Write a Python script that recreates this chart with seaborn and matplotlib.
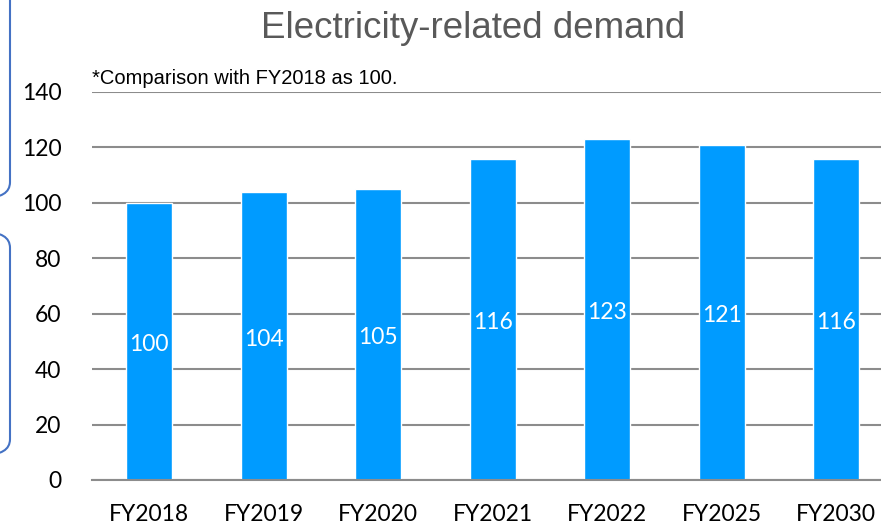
import matplotlib
matplotlib.use("Agg")
import matplotlib.pyplot as plt
from matplotlib.patches import FancyBboxPatch
import numpy as np
import pandas as pd
import seaborn as sns

years = ["FY2018", "FY2019", "FY2020", "FY2021", "FY2022", "FY2025", "FY2030"]
demand = [100, 104, 105, 116, 123, 121, 116]
value_labels = ["100", "104", "105", "116", "123", "121", "116"]

df = pd.DataFrame({"year": years, "demand": demand})

sns.set_style("white")
plt.rcParams["font.family"] = ["Lato", "DejaVu Sans"]

fig = plt.figure(figsize=(8.81, 5.25), dpi=100)
ax = fig.add_axes([92 / 881, 45 / 525, 801.5 / 881, 388 / 525])

sns.barplot(data=df, x="year", y="demand", color="#009BFF", width=0.4,
            saturation=1, ax=ax)

ax.set_xlim(-0.5, 6.5)
ax.set_ylim(0, 140)
ax.set_yticks(np.arange(0, 141, 20))
ax.yaxis.grid(True, color="#8C8C8C", linewidth=1.5)
ax.set_axisbelow(True)
ax.set_xlabel("")
ax.set_ylabel("")

for s in ["top", "right", "left"]:
    ax.spines[s].set_visible(False)
ax.spines["bottom"].set_color("#8C8C8C")
ax.spines["bottom"].set_linewidth(1.5)

# ticks sit between the categories
ax.set_xticks(np.arange(-0.5, 7, 1), minor=True)
ax.tick_params(axis="x", which="minor", length=8, width=1.5, color="#8C8C8C")
ax.tick_params(axis="x", which="major", length=0, pad=17, labelsize=16.5,
               labelcolor="black")
ax.tick_params(axis="y", length=0, pad=22, labelsize=16.5, labelcolor="black")

for i, (v, lab) in enumerate(zip(demand, value_labels)):
    ax.text(i, v / 2 - 1.2, lab, ha="center", va="center", color="white",
            fontsize=16.5)

ax.text(-0.5, 141.5, "*Comparison with FY2018 as 100.", ha="left",
        va="bottom", fontsize=14.5, family="Liberation Sans", color="black")

fig.text(473 / 881, 1 - 28 / 525, "Electricity-related demand", ha="center",
         va="center", fontsize=26.5, family="Liberation Sans", color="#595959")

# rounded boxes cut off at the left edge
for y0, y1 in [(-20, 198), (232, 455)]:
    box = FancyBboxPatch((-40 / 881, 1 - y1 / 525), 50 / 881, (y1 - y0) / 525,
                         boxstyle="round,pad=0,rounding_size=0.03",
                         transform=fig.transFigure, fill=False,
                         edgecolor="#4472C4", linewidth=1.5, clip_on=False)
    fig.patches.append(box)

fig.savefig("out.png", dpi=100)
